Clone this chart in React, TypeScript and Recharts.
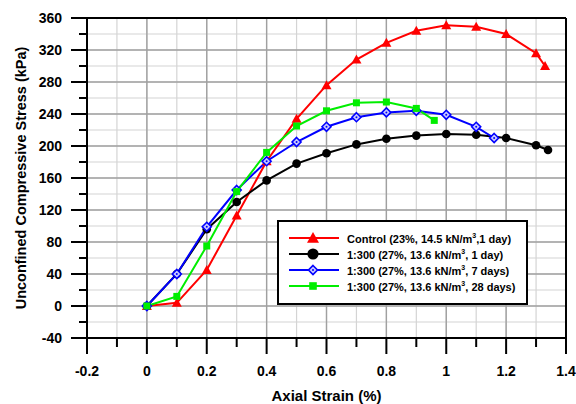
import { LineChart, Line, XAxis, YAxis, CartesianGrid, ReferenceLine } from "recharts";

const strainControl = [0, 0.1, 0.2, 0.3, 0.4, 0.5, 0.6, 0.7, 0.8, 0.9, 1.0, 1.1, 1.2, 1.3, 1.33];
const stressControl = [0, 4, 45, 113, 181, 234, 276, 308, 329, 344, 351, 349, 340, 316, 300];

const strain1Day = [0, 0.1, 0.2, 0.3, 0.4, 0.5, 0.6, 0.7, 0.8, 0.9, 1.0, 1.1, 1.2, 1.3, 1.34];
const stress1Day = [0, 40, 96, 130, 157, 178, 191, 202, 209, 213, 215, 214, 210, 201, 195];

const strain7Days = [0, 0.1, 0.2, 0.3, 0.4, 0.5, 0.6, 0.7, 0.8, 0.9, 1.0, 1.1, 1.16];
const stress7Days = [0, 40, 99, 145, 181, 205, 224, 236, 242, 244, 239, 224, 210];

const strain28Days = [0, 0.1, 0.2, 0.3, 0.4, 0.5, 0.6, 0.7, 0.8, 0.9, 0.96];
const stress28Days = [0, 12, 75, 143, 192, 225, 244, 254, 255, 247, 232];

const xTicks = [-0.2, -0.1, 0, 0.1, 0.2, 0.3, 0.4, 0.5, 0.6, 0.7, 0.8, 0.9, 1.0, 1.1, 1.2, 1.3, 1.4];
const xMajor = [-0.2, 0, 0.2, 0.4, 0.6, 0.8, 1.0, 1.2, 1.4];
const yTicks = [-40, -20, 0, 20, 40, 60, 80, 100, 120, 140, 160, 180, 200, 220, 240, 260, 280, 300, 320, 340, 360];
const yMajor = [-40, 0, 40, 80, 120, 160, 200, 240, 280, 320, 360];

const legendLabels = [
  "Control (23%, 14.5 kN/m",
  "1:300 (27%, 13.6 kN/m",
  "1:300 (27%, 13.6 kN/m",
  "1:300 (27%, 13.6 kN/m",
];
const legendTails = [",1 day)", ", 1 day)", ", 7 days)", ", 28 days)"];

const toRows = (xs: number[], ys: number[]) => xs.map((x, i) => ({ x, y: ys[i] }));

const FONT = "'Liberation Sans', Arial, sans-serif";

const isMajorX = (v: number) => Math.round(v * 10) % 2 === 0;
const isMajorY = (v: number) => Math.round(v) % 40 === 0;

const XTick = (props: any) => {
  const { x, y, payload } = props;
  const v = payload.value;
  const major = isMajorX(v);
  return (
    <g>
      <line x1={x} x2={x} y1={y} y2={y + (major ? 16 : 9)} stroke="#000" strokeWidth={2} />
      {major && (
        <text x={x} y={y + 38} textAnchor="middle" fontFamily={FONT} fontWeight="bold" fontSize={14} fill="#000">
          {String(Number(v.toFixed(1)))}
        </text>
      )}
    </g>
  );
};

const YTick = (props: any) => {
  const { x, y, payload } = props;
  const v = payload.value;
  const major = isMajorY(v);
  return (
    <g>
      <line x1={x - (major ? 16 : 8)} x2={x} y1={y} y2={y} stroke="#000" strokeWidth={2} />
      {major && (
        <text x={x - 25} y={y + 5} textAnchor="end" fontFamily={FONT} fontWeight="bold" fontSize={14} fill="#000">
          {v}
        </text>
      )}
    </g>
  );
};

const Triangle = ({ cx, cy, s = 5, color = "#ff0000" }: any) => (
  <polygon points={`${cx},${cy - s} ${cx + s},${cy + s * 0.8} ${cx - s},${cy + s * 0.8}`} fill={color} />
);
const Circle = ({ cx, cy, r = 4.3 }: any) => <circle cx={cx} cy={cy} r={r} fill="#000" />;
const Diamond = ({ cx, cy, s = 4.5 }: any) => (
  <g>
    <polygon
      points={`${cx},${cy - s} ${cx + s},${cy} ${cx},${cy + s} ${cx - s},${cy}`}
      fill="#c8c8ff"
      stroke="#0000ff"
      strokeWidth={1.6}
    />
    <circle cx={cx} cy={cy} r={1} fill="#0000ff" />
  </g>
);
const Square = ({ cx, cy, s = 3.5 }: any) => <rect x={cx - s} y={cy - s} width={s * 2} height={s * 2} fill="#00ee00" />;

const dotRed = (p: any) => <Triangle key={p.index} cx={p.cx} cy={p.cy} />;
const dotBlack = (p: any) => <Circle key={p.index} cx={p.cx} cy={p.cy} />;
const dotBlue = (p: any) => <Diamond key={p.index} cx={p.cx} cy={p.cy} />;
const dotGreen = (p: any) => <Square key={p.index} cx={p.cx} cy={p.cy} />;

const legendColors = ["#ff0000", "#000000", "#0000ff", "#00ee00"];

const LegendBox = () => (
  <div
    style={{
      position: "absolute",
      left: 277,
      top: 220,
      width: 251,
      height: 85,
      border: "2px solid #000",
      background: "#fff",
      boxSizing: "border-box",
      fontFamily: FONT,
      fontWeight: "bold",
      fontSize: 11,
    }}
  >
    {legendLabels.map((lab, i) => (
      <div key={i} style={{ position: "absolute", left: 10, top: 8 + i * 16.1, height: 16, display: "flex", alignItems: "center" }}>
        <svg width={54} height={16} style={{ display: "block" }}>
          <line x1={0} x2={50} y1={8} y2={8} stroke={legendColors[i]} strokeWidth={2} />
          {i === 0 && <Triangle cx={24} cy={8} s={6} />}
          {i === 1 && <Circle cx={24} cy={8} r={5.6} />}
          {i === 2 && <Diamond cx={24} cy={8} s={4.5} />}
          {i === 3 && <Square cx={24} cy={8} s={3.8} />}
        </svg>
        <span style={{ marginLeft: 4, whiteSpace: "nowrap" }}>
          {lab}
          <sup style={{ fontSize: 7 }}>3</sup>
          {legendTails[i]}
        </span>
      </div>
    ))}
  </div>
);

export default function App() {
  return (
    <div style={{ position: "absolute", left: 0, top: 0, width: 576, height: 404, background: "#fff" }}>
      <LineChart width={576} height={404} margin={{ top: 18, right: 10, bottom: 0, left: 0 }}>
        <CartesianGrid horizontalValues={yTicks} verticalValues={xTicks} stroke="#d4d4d4" strokeWidth={1.2} />
        <CartesianGrid horizontalValues={yMajor} verticalValues={xMajor} stroke="#a0a0a0" strokeWidth={1.4} />
        <XAxis
          type="number"
          dataKey="x"
          domain={[-0.2, 1.4]}
          ticks={xTicks}
          interval={0}
          height={66}
          tickSize={0}
          tickMargin={0}
          tick={<XTick />}
          tickLine={false}
          axisLine={{ stroke: "#000", strokeWidth: 2 }}
          allowDataOverflow
          label={{
            value: "Axial Strain (%)",
            position: "insideBottom",
            offset: 3,
            style: { fontFamily: FONT, fontWeight: "bold", fontSize: 15, fill: "#000" },
          }}
        />
        <YAxis
          type="number"
          dataKey="y"
          domain={[-40, 360]}
          ticks={yTicks}
          interval={0}
          width={87}
          tickSize={0}
          tickMargin={0}
          tick={<YTick />}
          tickLine={false}
          axisLine={{ stroke: "#000", strokeWidth: 2 }}
          allowDataOverflow
          label={{
            value: "Unconfined Compressive Stress (kPa)",
            angle: -90,
            position: "insideLeft",
            offset: 21,
            style: { textAnchor: "middle", fontFamily: FONT, fontWeight: "bold", fontSize: 14.5, fill: "#000" },
          }}
        />
        <ReferenceLine x={1.4} stroke="#000" strokeWidth={2} />
        <ReferenceLine y={360} stroke="#000" strokeWidth={2} />
        <Line data={toRows(strainControl, stressControl)} dataKey="y" type="linear" stroke="#ff0000" strokeWidth={2} dot={dotRed} isAnimationActive={false} />
        <Line data={toRows(strain1Day, stress1Day)} dataKey="y" type="linear" stroke="#000000" strokeWidth={2} dot={dotBlack} isAnimationActive={false} />
        <Line data={toRows(strain7Days, stress7Days)} dataKey="y" type="linear" stroke="#0000ff" strokeWidth={2} dot={dotBlue} isAnimationActive={false} />
        <Line data={toRows(strain28Days, stress28Days)} dataKey="y" type="linear" stroke="#00ee00" strokeWidth={2} dot={dotGreen} isAnimationActive={false} />
      </LineChart>
      <LegendBox />
    </div>
  );
}
